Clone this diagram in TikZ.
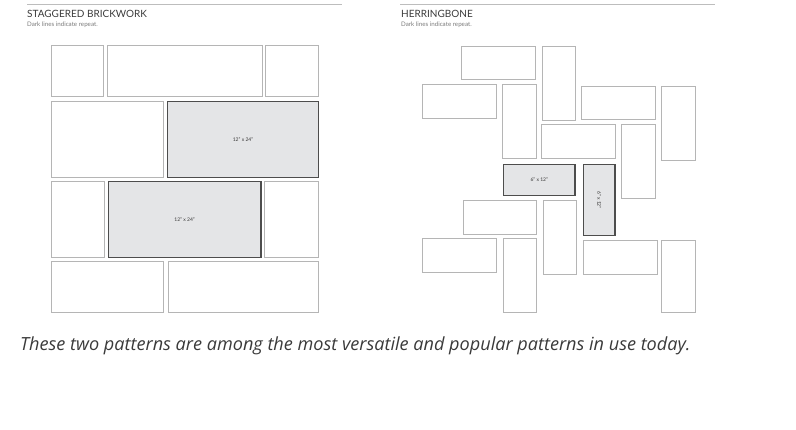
\documentclass[tikz,border=0pt]{standalone}
\usepackage{fontspec}
\setmainfont{Lato}
\newfontfamily\captionfont{Open Sans}
\usetikzlibrary{positioning}

\definecolor{tileline}{HTML}{B5B5B5}
\definecolor{repeatline}{HTML}{4D4D4D}
\definecolor{repeatfill}{HTML}{E4E5E7}
\definecolor{ruleline}{HTML}{BDBDBD}
\definecolor{headtext}{HTML}{3A3A3A}
\definecolor{subtext}{HTML}{7A7A7A}

\begin{document}
\begin{tikzpicture}[x=1pt, y=-1pt,
tile/.style={draw=tileline, line width=1pt, fill=white},
repeattile/.style={draw=repeatline, line width=1.3pt, fill=repeatfill},
tilelabel/.style={font=\fontsize{5}{6}\selectfont, text=headtext, inner sep=0pt},
heading/.style={anchor=base west, inner sep=0pt, text=headtext, font=\fontsize{10}{11}\selectfont},
subheading/.style={anchor=base west, inner sep=0pt, text=subtext, font=\fontsize{6.2}{7}\selectfont}]
\useasboundingbox (0,0) rectangle (796,430);

% headings
\draw[ruleline, line width=0.9pt] (27,4.3) -- (342,4.3);
\draw[ruleline, line width=0.9pt] (400,4.3) -- (715,4.3);
\node[heading] (brickhead) at (27,17.3) {STAGGERED BRICKWORK};
\node[subheading] (bricksub) at (27,27) {Dark lines indicate repeat.};
\node[heading] (bonehead) at (401,17.3) {HERRINGBONE};
\node[subheading] (bonesub) at (401,27) {Dark lines indicate repeat.};

% staggered brickwork
\foreach \xa/\ya/\xb/\yb in {51.7/46/103.5/97, 107/46/262/97, 265/46/318.4/97,
  51.7/101.7/163.7/177.7,
  51.7/181.3/104.3/257.7, 264.7/181.3/318.4/257.7,
  51.7/261.7/163.7/313, 168/261.7/318.4/313}
  \draw[tile] (\xa,\ya) rectangle (\xb,\yb);
\draw[repeattile] (167.7,101.7) rectangle (318.4,177.7);
\draw[repeattile] (108.3,181.3) rectangle (261,257.7);
\node[tilelabel] (brickA) at (243,139.7) {12" x 24"};
\node[tilelabel] (brickB) at (184.6,219.5) {12" x 24"};

% herringbone
\foreach \xa/\ya/\xb/\yb in {461.7/46.7/535.7/80, 542.3/46.7/575.7/120.3,
  422.3/84.7/496.3/118.3, 502.7/84.7/536.3/158.3,
  581.3/86.7/655/120, 661.3/86.7/695/160.3,
  541.3/125/615/158.3, 621.3/125/655.3/198.7,
  463.3/201/536.7/234.3, 543.3/201/576.7/274.3,
  422.7/239/496.7/272.3, 503.3/239/536.7/312.7,
  583.3/241/657/274.3, 661.7/241/695.3/312.7}
  \draw[tile] (\xa,\ya) rectangle (\xb,\yb);
\draw[repeattile] (503.3,164.3) rectangle (575,195.3);
\draw[repeattile] (583.3,164.3) rectangle (615,235.7);
\node[tilelabel] (boneA) at (539.2,179.8) {6" x 12"};
\node[tilelabel, rotate=-90] (boneB) at (599.2,200) {6" x 12"};

% caption
\node[anchor=base west, inner sep=0pt, text=headtext, font=\captionfont\itshape\fontsize{18.1}{20}\selectfont] (caption) at (20,350.7)
  {These two patterns are among the most versatile and popular patterns in use today.};
\end{tikzpicture}
\end{document}
